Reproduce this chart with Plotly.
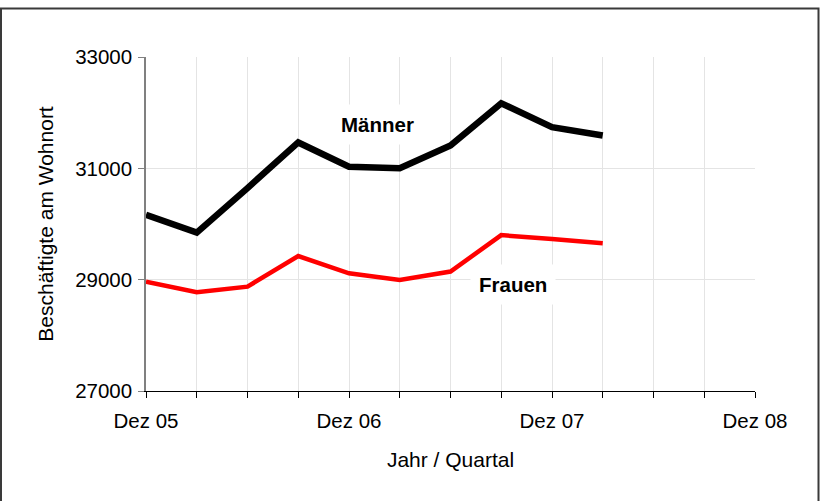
import plotly.graph_objects as go

quarters = ["Dez 05", "Mär 06", "Jun 06", "Sep 06", "Dez 06", "Mär 07",
            "Jun 07", "Sep 07", "Dez 07", "Mär 08"]
maenner = [30165, 29845, 30645, 31465, 31030, 31000, 31410, 32170, 31740, 31590]
frauen = [28965, 28775, 28875, 29425, 29115, 28995, 29145, 29800, 29730, 29655]

tick_positions = list(range(13))
tick_labels = ["Dez 05", "", "", "", "Dez 06", "", "", "", "Dez 07", "", "", "", "Dez 08"]
y_ticks = [27000, 29000, 31000, 33000]

x = list(range(len(quarters)))
FONT = "Liberation Sans, Arial, sans-serif"

fig = go.Figure()
fig.add_trace(go.Scatter(x=x, y=frauen, mode="lines", name="Frauen",
                         line=dict(color="#ff0000", width=4.5), text=quarters,
                         hoverinfo="text+y"))
fig.add_trace(go.Scatter(x=x, y=maenner, mode="lines", name="Männer",
                         line=dict(color="#000000", width=6.5), text=quarters,
                         hoverinfo="text+y"))

L, R, T, B = 146, 65, 57, 110
W, H = 820, 501
pw, ph = W - L - R, H - T - B

fig.update_layout(
    width=W, height=H,
    margin=dict(l=L, r=R, t=T, b=B),
    paper_bgcolor="white", plot_bgcolor="white",
    showlegend=False,
    font=dict(family=FONT, size=20.5, color="black"),
    xaxis=dict(
        range=[0, 12], tickmode="array", tickvals=tick_positions, ticktext=tick_labels,
        showgrid=True, gridcolor="#e4e4e4", gridwidth=1,
        showline=True, linecolor="black", linewidth=1,
        ticks="outside", ticklen=6, tickcolor="black", tickwidth=1,
        ticklabelstandoff=5,
        zeroline=False,
        title=dict(text="Jahr / Quartal", font=dict(size=21), standoff=21),
    ),
    yaxis=dict(
        range=[27000, 33000], tickmode="array", tickvals=y_ticks,
        ticktext=[str(v) for v in y_ticks],
        showgrid=True, gridcolor="#e4e4e4", gridwidth=1,
        showline=True, linecolor="#808080", linewidth=1.5,
        ticks="outside", ticklen=6, tickcolor="#808080", tickwidth=1,
        ticklabelstandoff=2,
        zeroline=False,
        title=dict(text="Beschäftigte am Wohnort", font=dict(size=21), standoff=16),
    ),
    annotations=[
        dict(x=4.57, y=31780, xref="x", yref="y", text="<b>Männer</b>", showarrow=False,
             font=dict(size=20.5, family=FONT, color="black"), bgcolor="white", borderpad=8),
        dict(x=7.23, y=28905, xref="x", yref="y", text="<b>Frauen</b>", showarrow=False,
             font=dict(size=20.5, family=FONT, color="black"), bgcolor="white", borderpad=8),
    ],
    shapes=[
        dict(type="rect", xref="paper", yref="paper",
             x0=(1 - L) / pw, x1=(818.5 - L) / pw,
             y0=(H - B - 520) / ph, y1=(H - B - 8.5) / ph,
             line=dict(color="#3a3a3a", width=2), fillcolor="rgba(0,0,0,0)", layer="below"),
    ],
)

fig.write_html("out.html", config={"displayModeBar": False},
               post_script="document.body.style.margin='0';document.body.style.overflow='hidden';")
